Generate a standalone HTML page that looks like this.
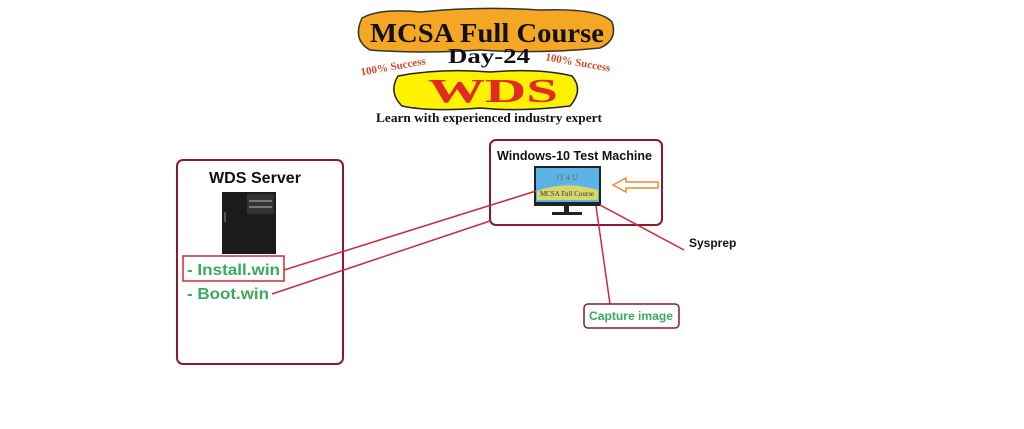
<!DOCTYPE html>
<html><head><meta charset="utf-8"><style>
html,body{margin:0;padding:0;background:#fff;width:1024px;height:429px;overflow:hidden}
svg{display:block}
.s{font-family:"Liberation Sans",sans-serif}
.r{font-family:"Liberation Serif",serif}
</style></head><body>
<svg width="1024" height="429" viewBox="0 0 1024 429" xmlns="http://www.w3.org/2000/svg">
<!-- Banner -->
<path d="M362 18 Q380 8 420 12 Q480 6 540 10 Q600 8 612 22 Q618 40 600 48 Q540 54 480 50 Q420 54 370 50 Q352 40 362 18Z" fill="#f5a623" stroke="#333" stroke-width="1.5"/>
<text x="370" y="42" class="r" font-weight="bold" font-size="27" textLength="234" lengthAdjust="spacingAndGlyphs" fill="#111">MCSA Full Course</text>
<text x="448" y="63" class="r" font-weight="bold" font-size="21" textLength="82" lengthAdjust="spacingAndGlyphs" fill="#111">Day-24</text>
<text x="393" y="70" class="r" font-weight="bold" font-size="11" fill="#d9482b" text-anchor="middle" transform="rotate(-10 393 66)">100% Success</text>
<text x="578" y="66" class="r" font-weight="bold" font-size="11" fill="#d9482b" text-anchor="middle" transform="rotate(10 578 62)">100% Success</text>
<path d="M398 76 Q440 68 490 72 Q540 68 572 76 Q584 90 570 106 Q520 112 480 108 Q430 112 402 106 Q388 92 398 76Z" fill="#fff200" stroke="#222" stroke-width="1.5"/>
<text x="428" y="102" class="r" font-weight="bold" font-size="34" textLength="130" lengthAdjust="spacingAndGlyphs" fill="#e02b20">WDS</text>
<text x="376" y="122" class="r" font-weight="bold" font-size="13" textLength="226" lengthAdjust="spacingAndGlyphs" fill="#111">Learn with experienced industry expert</text>

<!-- WDS Server box -->
<rect x="177" y="160" width="166" height="204" rx="6" fill="none" stroke="#8b1a2f" stroke-width="2"/>
<text x="209" y="183" class="s" font-weight="bold" font-size="16" textLength="92" lengthAdjust="spacingAndGlyphs" fill="#111">WDS Server</text>
<rect x="222" y="192" width="54" height="62" fill="#1b1b1b"/>
<rect x="247" y="194" width="27" height="20" fill="#333"/>
<rect x="249" y="200" width="23" height="2" fill="#777"/>
<rect x="249" y="206" width="23" height="2" fill="#777"/>
<rect x="224" y="212" width="2" height="10" fill="#555"/>
<rect x="183" y="256" width="101" height="25" fill="none" stroke="#d0283c" stroke-width="1.5"/>
<text x="187" y="275" class="s" font-weight="bold" font-size="16" textLength="93" lengthAdjust="spacingAndGlyphs" fill="#3aaa5c">- Install.win</text>
<text x="187" y="299" class="s" font-weight="bold" font-size="16" textLength="82" lengthAdjust="spacingAndGlyphs" fill="#3aaa5c">- Boot.win</text>

<!-- Test machine box -->
<rect x="490" y="140" width="172" height="85" rx="6" fill="none" stroke="#8b1a2f" stroke-width="2"/>
<text x="497" y="160" class="s" font-weight="bold" font-size="12.5" textLength="155" lengthAdjust="spacingAndGlyphs" fill="#111">Windows-10 Test Machine</text>
<rect x="534" y="166" width="67" height="40" fill="#222"/>
<rect x="536" y="168" width="63" height="34" fill="#5bb3e8"/>
<path d="M537 191 Q565 180 598 190 L598 200 L537 200Z" fill="#d6d86a"/>
<text x="567" y="180" class="r" font-size="8" text-anchor="middle" fill="#7a6a3a">IT 4 U</text>
<text x="567" y="196" class="r" font-size="7" text-anchor="middle" fill="#333">MCSA Full Course</text>
<rect x="564" y="206" width="5" height="6" fill="#222"/>
<rect x="552" y="212" width="30" height="3" fill="#222"/>
<path d="M613 185 L626 178 L626 182 L658 182 L658 188 L626 188 L626 192Z" fill="none" stroke="#f08a30" stroke-width="1.5"/>

<!-- connectors -->
<g stroke="#d0283c" stroke-width="1.5" fill="none">
<line x1="284" y1="270" x2="536" y2="191"/>
<line x1="272" y1="294" x2="490" y2="221"/>
<line x1="596" y1="206" x2="610" y2="304"/>
<line x1="600" y1="205" x2="684" y2="250"/>
</g>
<text x="689" y="247" class="s" font-weight="bold" font-size="12" fill="#111">Sysprep</text>
<rect x="584" y="304" width="95" height="24" rx="4" fill="#fff" stroke="#8b1a2f" stroke-width="1.5"/>
<text x="589" y="320" class="s" font-weight="bold" font-size="11.5" textLength="84" lengthAdjust="spacingAndGlyphs" fill="#3aaa5c">Capture image</text>
</svg>
</body></html>
